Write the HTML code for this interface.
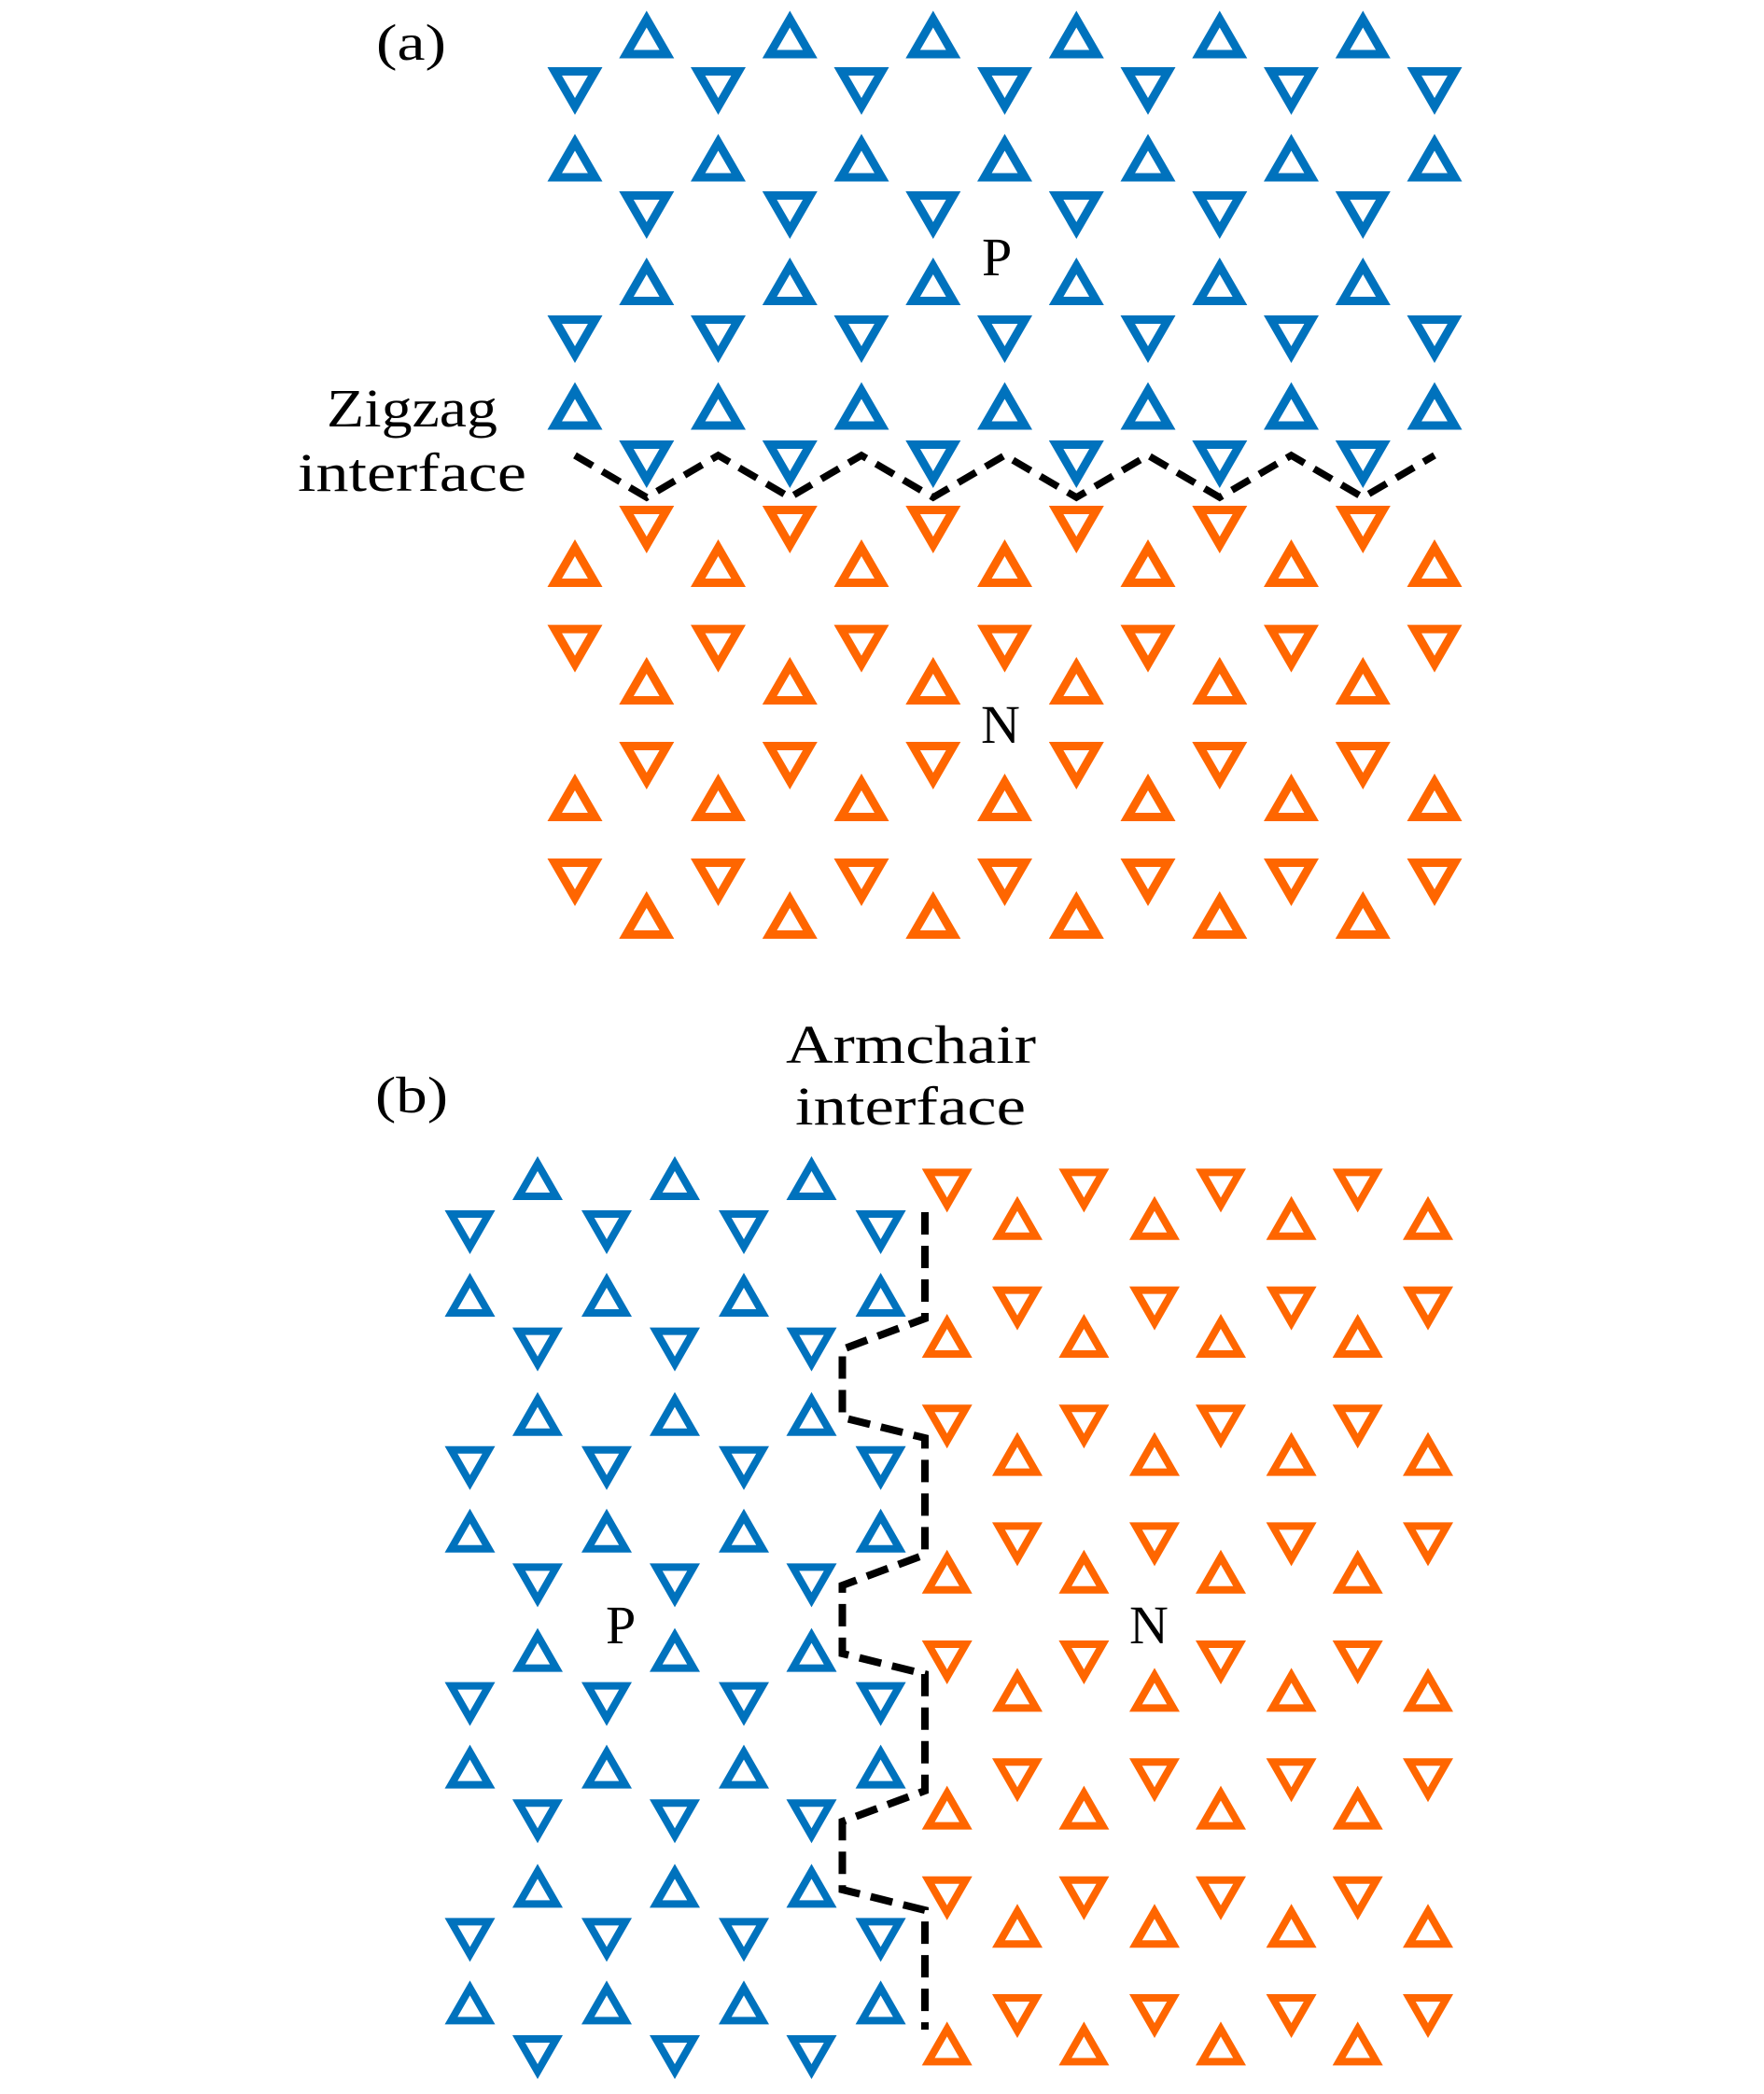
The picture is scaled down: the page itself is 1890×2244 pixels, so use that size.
<!DOCTYPE html>
<html><head><meta charset="utf-8"><style>
html,body{margin:0;padding:0;background:#fff}
svg{display:block}
text{font-family:"Liberation Serif",serif;fill:#000}
</style></head><body>
<svg id="s" width="1890" height="2244" viewBox="0 0 1890 2244" xmlns="http://www.w3.org/2000/svg">
<g id="tri"></g>
<polyline id="zz" fill="none" stroke="#000" stroke-width="7.5" stroke-dasharray="22,12" stroke-linejoin="miter"/>
<polyline id="ac" fill="none" stroke="#000" stroke-width="8" stroke-dasharray="24,12" stroke-linejoin="miter"/>
<text x="403" y="64" font-size="55" textLength="75" lengthAdjust="spacingAndGlyphs">(a)</text>
<text x="350" y="457" font-size="58" textLength="183" lengthAdjust="spacingAndGlyphs">Zigzag</text>
<text x="319" y="526" font-size="58" textLength="245" lengthAdjust="spacingAndGlyphs">interface</text>
<text x="1052" y="295" font-size="58">P</text>
<text x="1051" y="796" font-size="58">N</text>
<text x="402" y="1192" font-size="55" textLength="78" lengthAdjust="spacingAndGlyphs">(b)</text>
<text x="842" y="1139" font-size="58" textLength="268" lengthAdjust="spacingAndGlyphs">Armchair</text>
<text x="852" y="1205" font-size="58" textLength="247" lengthAdjust="spacingAndGlyphs">interface</text>
<text x="649" y="1761" font-size="58">P</text>
<text x="1210" y="1761" font-size="58">N</text>
</svg>
<script>
(function(){
var g=document.getElementById('tri');var out='';
var B='#0072BD',O='#FF6600';
function tri(cx,top,up,w,h,t,col){
  var p;
  if(up)p=[[cx,top],[cx+w/2,top+h],[cx-w/2,top+h]];
  else p=[[cx-w/2,top],[cx+w/2,top],[cx,top+h]];
  var gx=cx,gy=up?top+2*h/3:top+h/3,r=h/3,k=(r-t)/r;
  var q=p.map(function(a){return [gx+(a[0]-gx)*k,gy+(a[1]-gy)*k];});
  function d(a){return 'M'+a[0][0].toFixed(1)+','+a[0][1].toFixed(1)+'L'+a[1][0].toFixed(1)+','+a[1][1].toFixed(1)+'L'+a[2][0].toFixed(1)+','+a[2][1].toFixed(1)+'Z';}
  out+='<path d="'+d(p)+d([q[0],q[2],q[1]])+'" fill="'+col+'" fill-rule="evenodd"/>';
}
var D=[],U=[];for(var k=0;k<7;k++)D.push(616+153.5*k);for(k=0;k<6;k++)U.push(692.75+153.5*k);
var rowsA=[[1,U,11.5,B],[0,D,72,B],[1,D,143.5,B],[0,U,205,B],[1,U,276,B],[0,D,338,B],[1,D,409.5,B],[0,U,472,B],
[0,U,542,O],[1,D,578,O],[0,D,669.6,O],[1,U,704,O],[0,U,795,O],[1,D,829,O],[0,D,920,O],[1,U,955,O]];
rowsA.forEach(function(r){r[1].forEach(function(x){tri(x,r[2],r[0],59,51,9,r[3]);});});
var B3=[576,723,869.5],B4=[503.5,650,797,943.6];
var OA=[1014.7,1161.4,1308,1454.7],OB=[1090,1237,1383.6,1530];
var P=252.8;
for(var p=0;p<4;p++){
  var o=P*p;
  [[1,B3,1239,B],[0,B4,1297,B],[1,B4,1364,B],[0,B3,1422.6,B],
   [0,OA,1252.4,O],[1,OB,1281.8,O],[0,OB,1378.6,O],[1,OA,1408,O]].forEach(function(r){
    r[1].forEach(function(x){tri(x,r[2]+o,r[0],54,47,8,r[3]);});});
}
g.innerHTML=out;
var pts=[];for(k=0;k<13;k++){pts.push((616+76.75*k).toFixed(1)+','+(k%2?533:488));}
document.getElementById('zz').setAttribute('points',pts.join(' '));
var a=['991,1299'];
for(p=0;p<3;p++){var o2=253*p;a.push('991,'+(1413+o2),'902.5,'+(1446+o2),'902.5,'+(1519+o2),'991,'+(1541+o2));}
a.push('991,2175');
document.getElementById('ac').setAttribute('points',a.join(' '));
})();
</script>
</body></html>
